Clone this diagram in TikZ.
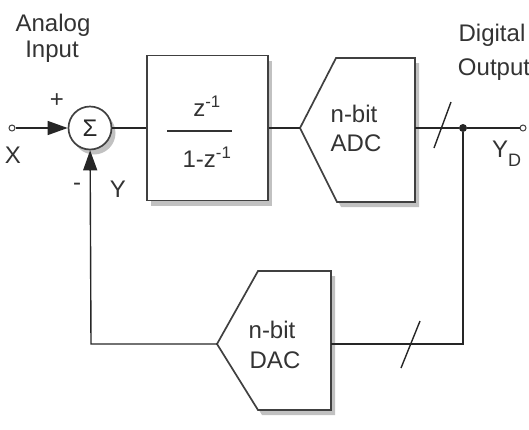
\documentclass[tikz,border=0pt]{standalone}
\usepackage{fontspec}
\setmainfont{Liberation Sans}
\usetikzlibrary{arrows.meta,shadows}
\begin{document}
\begin{tikzpicture}[x=1pt,y=-1pt,
  wire/.style={line width=1.4pt,draw=black!85},
  blockedge/.style={line width=1.7pt,draw=black!75,fill=white,
     drop shadow={shadow xshift=4pt,shadow yshift=-5pt,opacity=0.35,fill=black!70}},
  lbl/.style={inner sep=0pt,font=\fontsize{24}{26}\selectfont,text=black!80},
  term/.style={circle,draw=black!75,line width=1pt,fill=white,inner sep=0pt,minimum size=6pt},
  arr/.style={-{Triangle[length=20pt,width=14pt]}}]
\useasboundingbox (0,0) rectangle (529,429);
% sum junction
\node[circle,blockedge,minimum size=43pt,inner sep=0pt,text=black!85,
      font=\fontsize{24}{26}\selectfont] (sum) at (90,128) {Σ};
% integrator block
\node[rectangle,blockedge,minimum width=121pt,minimum height=145pt,inner sep=0pt] (h) at (207.5,128) {};
\node[lbl] (num) at (207,106) {z\textsuperscript{-1}};
\node[lbl] (den) at (207,157) {1-z\textsuperscript{-1}};
\coordinate (fl) at (167,131);
\coordinate (fr) at (232,131);
\draw[line width=1.5pt,draw=black!80] (fl) -- (fr);
% ADC
\coordinate (adcL) at (300,128);
\coordinate (adcR) at (415,128);
\draw[blockedge] (adcL) -- (336,58) -- (415,58) -- (415,202) -- (337,202) -- cycle;
\node[lbl] (adc1) at (354,114) {n-bit};
\node[lbl] (adc2) at (356,143) {ADC};
% DAC
\coordinate (dacL) at (217,344);
\coordinate (dacR) at (331,344);
\draw[blockedge] (dacL) -- (258,271) -- (331,271) -- (331,410) -- (258,410) -- cycle;
\node[lbl] (dac1) at (272,330) {n-bit};
\node[lbl] (dac2) at (275,360) {DAC};
% terminals
\node[term] (in) at (12,128) {};
\node[term] (out) at (523,128) {};
\node[circle,fill=black!85,inner sep=0pt,minimum size=8pt] (j) at (463,128) {};
\coordinate (c1) at (463,344);
\coordinate (c2) at (91,344);
% wires
\draw[wire,arr] (in) -- (sum);
\draw[wire] (sum) -- (h);
\draw[wire] (h) -- (adcL);
\draw[wire] (adcR) -- (j) -- (out);
\draw[wire] (j) -- (c1) -- (dacR);
\draw[wire,arr] (dacL) -- (c2) -- (sum);
% bus slashes
\coordinate (s1a) at (434,148); \coordinate (s1b) at (451,102);
\draw[wire] (s1a) -- (s1b);
\coordinate (s2a) at (401,368); \coordinate (s2b) at (420,321);
\draw[wire] (s2a) -- (s2b);
% labels
\node[lbl] (ai1) at (53,25) {Analog};
\node[lbl] (ai2) at (52,52) {Input};
\node[lbl] (do1) at (492,35) {Digital};
\node[lbl] (do2) at (494,70) {Output};
\node[lbl] (plus) at (57,101) {+};
\node[lbl] (minus) at (77,187) {-};
\node[lbl] (ylab) at (118,189) {Y};
\node[lbl] (xlab) at (13,155) {X};
\node[lbl,anchor=west] (yd) at (492,154) {Y\raisebox{-9pt}{\fontsize{18}{18}\selectfont D}};
\end{tikzpicture}
\end{document}
